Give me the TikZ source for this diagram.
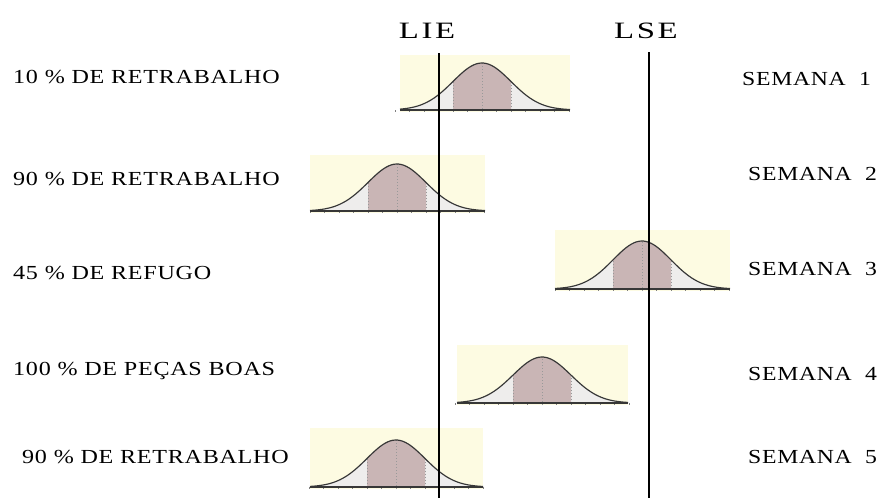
\documentclass[tikz,border=0pt]{standalone}
\usepackage{graphicx}
\usepackage{fontspec}
\setmainfont{Liberation Serif}
\definecolor{panelbg}{RGB}{253,251,226}
\definecolor{midfill}{RGB}{201,181,181}
\definecolor{tailfill}{RGB}{238,237,236}
\definecolor{curvecol}{RGB}{55,55,55}
\newcommand\gpanel[7]{% name, L, R, T, B, P, Y
  \pgfmathsetmacro\pL{#2}\pgfmathsetmacro\pR{#3}%
  \pgfmathsetmacro\pT{#4}\pgfmathsetmacro\pB{#5}%
  \pgfmathsetmacro\pP{#6}\pgfmathsetmacro\pH{#5-#7}%
  \pgfmathsetmacro\pA{#6-29}\pgfmathsetmacro\pC{#6+29}%
  \pgfmathsetmacro\pS{#5-0.6065*(#5-#7)}%
  \node[panelbox, minimum width={(#3-#2)*0.03cm}, minimum height={(#5+2-#4)*0.03cm}, anchor=north west] (#1) at (\pL,\pT) {};
  \fill[tailfill] (\pL,\pB) -- plot[domain=\pL:\pR, samples=70] (\x,{\pB-\pH*exp(-((\x-\pP)/29)^2/2)}) -- (\pR,\pB) -- cycle;
  \fill[midfill] (\pA,\pB) -- plot[domain=\pA:\pC, samples=40] (\x,{\pB-\pH*exp(-((\x-\pP)/29)^2/2)}) -- (\pC,\pB) -- cycle;
  \foreach \k in {-6,...,6}{\draw[tick] (\pP+\k*14.5,\pB) -- ++(0,2);}
  \draw[dotln] (\pA,\pB) -- (\pA,\pS);
  \draw[dotln] (\pC,\pB) -- (\pC,\pS);
  \draw[dotln] (\pP,\pB+2) -- (\pP,#7);
  \draw[curve] plot[domain=\pL:\pR, samples=70] (\x,{\pB-\pH*exp(-((\x-\pP)/29)^2/2)});
  \draw[baseln] (\pL,\pB) -- (\pR,\pB);
}
\begin{document}
\begin{tikzpicture}[x=0.03cm, y=-0.03cm,
  panelbox/.style={fill=panelbg, draw=none, inner sep=0pt, outer sep=0pt},
  curve/.style={draw=curvecol, line width=1pt},
  baseln/.style={draw=curvecol, line width=0.9pt},
  tick/.style={draw=gray, line width=0.4pt},
  dotln/.style={draw=gray!80, line width=0.6pt, dotted},
  limit/.style={draw=black, line width=1.8pt},
  lbl/.style={anchor=base west, inner sep=0pt, font=\fontsize{17}{19}\selectfont},
  wk/.style={anchor=base west, inner sep=0pt, font=\fontsize{17}{19}\selectfont},
  lim/.style={anchor=base, inner sep=0pt, font=\fontsize{20}{22}\selectfont}]
\useasboundingbox (0,0) rectangle (885,498);
\fill[white] (0,0) rectangle (885,498);
% panels
\gpanel{p1}{400}{570}{55}{110}{482}{63}
\gpanel{p2}{310}{485}{155}{211}{397}{164}
\gpanel{p3}{555}{730}{230}{289}{642}{241}
\gpanel{p4}{457}{628}{345}{403}{542}{357}
\gpanel{p5}{310}{483}{428}{487}{396}{440}
% limit lines
\coordinate (lieTop) at (439,53);
\coordinate (lieBot) at (439,498);
\coordinate (lseTop) at (649,52);
\coordinate (lseBot) at (649,498);
\draw[limit] (lieTop) -- (lieBot);
\draw[limit] (lseTop) -- (lseBot);
\node[lim] (lie) at (427,38) {\scalebox{1.4}[1]{\addfontfeature{LetterSpace=8}LIE}};
\node[lim] (lse) at (646,38) {\scalebox{1.4}[1]{\addfontfeature{LetterSpace=8}LSE}};
% left labels
\node[lbl] (l1) at (13,83.5) {\scalebox{1.21}[1]{\addfontfeature{LetterSpace=3}10 \% DE RETRABALHO}};
\node[lbl] (l2) at (13,185.5) {\scalebox{1.21}[1]{\addfontfeature{LetterSpace=3}90 \% DE RETRABALHO}};
\node[lbl] (l3) at (13,279.5) {\scalebox{1.21}[1]{\addfontfeature{LetterSpace=3}45 \% DE REFUGO}};
\node[lbl] (l4) at (13,375.5) {\scalebox{1.21}[1]{\addfontfeature{LetterSpace=3}100 \% DE PEÇAS BOAS}};
\node[lbl] (l5) at (22,463) {\scalebox{1.21}[1]{\addfontfeature{LetterSpace=3}90 \% DE RETRABALHO}};
% right labels
\node[wk] (w1) at (742,85.5) {\scalebox{1.19}[1]{\addfontfeature{LetterSpace=3}SEMANA\ \ 1}};
\node[wk] (w2) at (748,180.5) {\scalebox{1.19}[1]{\addfontfeature{LetterSpace=3}SEMANA\ \ 2}};
\node[wk] (w3) at (748,275.5) {\scalebox{1.19}[1]{\addfontfeature{LetterSpace=3}SEMANA\ \ 3}};
\node[wk] (w4) at (748,380) {\scalebox{1.19}[1]{\addfontfeature{LetterSpace=3}SEMANA\ \ 4}};
\node[wk] (w5) at (748,463.5) {\scalebox{1.19}[1]{\addfontfeature{LetterSpace=3}SEMANA\ \ 5}};
\end{tikzpicture}
\end{document}
